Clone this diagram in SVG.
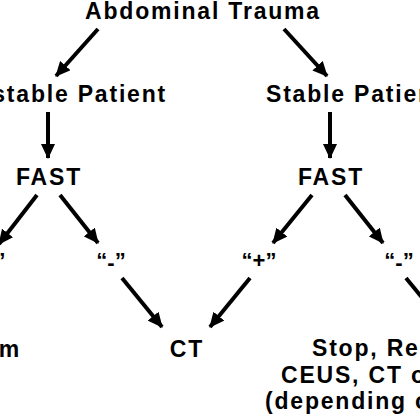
<svg xmlns="http://www.w3.org/2000/svg" width="420" height="420" viewBox="0 0 420 420">
  <style>
    .t { font-family: "Liberation Sans", Arial, sans-serif; font-size: 22px; fill: #000; }
    .big { font-size: 23px; font-weight: bold; letter-spacing: 1.8px; }
    .mid { text-anchor: middle; }
    .end { text-anchor: end; }
    .lbl { font-size: 22px; font-weight: bold; text-anchor: middle; }
    .c line { stroke: #000; stroke-width: 4; marker-end: url(#ah); }
  </style>
  <defs>
    <marker id="ah" markerUnits="userSpaceOnUse" markerWidth="16" markerHeight="14" refX="14" refY="7" orient="auto">
      <path d="M0,0 L15,7 L0,14 z" fill="#000"/>
    </marker>
  </defs>
  <rect width="420" height="420" fill="#fff"/>
  <g class="c" id="connectors">
    <line x1="98" y1="29" x2="56" y2="76"/>
    <line x1="284" y1="29" x2="327" y2="76"/>
    <line x1="48" y1="112" x2="48" y2="158"/>
    <line x1="330" y1="112" x2="330" y2="158"/>
    <line x1="37" y1="195" x2="-1" y2="244"/>
    <line x1="60" y1="195" x2="98" y2="243"/>
    <line x1="312" y1="195" x2="273" y2="243"/>
    <line x1="345" y1="195" x2="383" y2="243"/>
    <line x1="122" y1="278" x2="162" y2="327"/>
    <line x1="250" y1="278" x2="210" y2="327"/>
    <line x1="406" y1="278" x2="446" y2="327"/>
  </g>
  <g id="abdominal-trauma"><text class="t big mid" x="203" y="19">Abdominal Trauma</text></g>
  <g id="unstable-patient"><text class="t big end" x="167" y="102">Unstable Patient</text></g>
  <g id="stable-patient"><text class="t big" x="266" y="102">Stable Patient</text></g>
  <g id="fast-left"><text class="t big mid" x="49" y="185">FAST</text></g>
  <g id="fast-right"><text class="t big mid" x="331" y="185">FAST</text></g>
  <g id="pos-left"><text class="t lbl" x="-12" y="268">“+”</text></g>
  <g id="neg-left"><text class="t lbl" x="111" y="268">“<tspan dy="2">-</tspan><tspan dy="-2">”</tspan></text></g>
  <g id="pos-right"><text class="t lbl" x="259" y="268">“+”</text></g>
  <g id="neg-right"><text class="t lbl" x="399" y="268">“<tspan dy="2">-</tspan><tspan dy="-2">”</tspan></text></g>
  <g id="operating-room"><text class="t big end" x="21" y="357">Operating Room</text></g>
  <g id="ct"><text class="t big mid" x="187" y="357">CT</text></g>
  <g id="stop">
    <text class="t big" x="312" y="356">Stop, Repeat FAST,</text>
    <text class="t big" x="281" y="383">CEUS, CT or MRI</text>
    <text class="t big" x="265" y="409">(depending on clinical situation)</text>
  </g>
</svg>
